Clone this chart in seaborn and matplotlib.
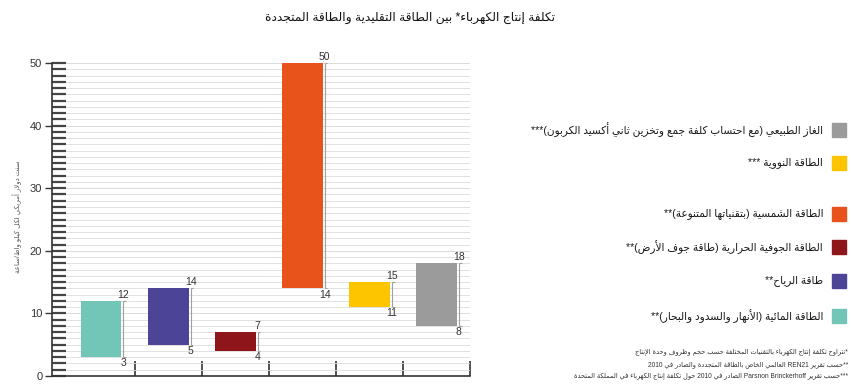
import re
import pandas as pd
import seaborn as sns
import matplotlib.pyplot as plt
from matplotlib.patches import Rectangle
from matplotlib.ticker import MultipleLocator

# matplotlib has no arabic shaping / bidi, so do a small version by hand
_order = "ءآأؤإئابةتثجحخدذرزسشصضطظعغفقكلمنهوىي"
_two = set("آأؤإادذرزوةى")
_forms = {}
code = 0xFE80
for ch in _order:
    n = 1 if ch == "ء" else (2 if ch in _two else 4)
    _forms[ch] = [chr(code + k) for k in range(n)]
    code += n
_lamalef = {"آ": 0xFEF5, "أ": 0xFEF7, "إ": 0xFEF9, "ا": 0xFEFB}


def _dual(ch):
    return ch in _forms and len(_forms[ch]) == 4


def shape(s):
    out = []
    i = 0
    while i < len(s):
        ch = s[i]
        if ch not in _forms:
            out.append(ch)
            i += 1
            continue
        prev = i > 0 and _dual(s[i - 1])
        if ch == "ل" and i + 1 < len(s) and s[i + 1] in _lamalef:
            out.append(chr(_lamalef[s[i + 1]] + (1 if prev else 0)))
            i += 2
            continue
        f = _forms[ch]
        nxt = i + 1 < len(s) and s[i + 1] in _forms and s[i + 1] != "ء"
        if len(f) == 4:
            k = {(False, False): 0, (True, False): 1, (False, True): 2, (True, True): 3}[(prev, nxt)]
        elif len(f) == 2:
            k = 1 if prev else 0
        else:
            k = 0
        out.append(f[k])
        i += 1
    return "".join(out)


def ar(s):
    s = shape(s)
    parts = re.split(r"([A-Za-z0-9][A-Za-z0-9 ]*[A-Za-z0-9]|[A-Za-z0-9])", s)
    mirror = str.maketrans("()", ")(")
    res = [p if j % 2 else p[::-1].translate(mirror) for j, p in enumerate(parts)]
    return "".join(reversed(res))


# data
sources = ["الطاقة المائية (الأنهار والسدود والبحار)**",
           "طاقة الرياح**",
           "الطاقة الجوفية الحرارية (طاقة جوف الأرض)**",
           "الطاقة الشمسية (بتقنياتها المتنوعة)**",
           "الطاقة النووية ***",
           "الغاز الطبيعي (مع احتساب كلفة جمع وتخزين ثاني أكسيد الكربون)***"]
cost_low = [3, 5, 4, 14, 11, 8]
cost_high = [12, 14, 7, 50, 15, 18]
colors = ["#72c6b7", "#4c4597", "#8e1519", "#e7531a", "#fcc500", "#9b9b9b"]

title = "تكلفة إنتاج الكهرباء* بين الطاقة التقليدية والطاقة المتجددة"
ylabel = "سنت دولار أمريكي لكل كيلو واط/ساعة"
notes = ["*تتراوح تكلفة إنتاج الكهرباء بالتقنيات المختلفة حسب حجم وظروف وحدة الإنتاج",
         "**حسب تقرير REN21 العالمي الخاص بالطاقة المتجددة والصادر في 2010",
         "***حسب تقرير Parsnon Brinckerhoff الصادر في 2010 حول تكلفة إنتاج الكهرباء في المملكة المتحدة"]

df = pd.DataFrame({"source": sources, "low": cost_low, "high": cost_high})
df["span"] = df["high"] - df["low"]

sns.set_theme(style="ticks")
plt.rcParams["font.family"] = ["Liberation Sans", "DejaVu Sans"]

W, H = 851, 388
fig = plt.figure(figsize=(W / 100, H / 100), dpi=100)
ax = fig.add_axes([52 / W, 12 / H, 418 / W, 313 / H])

bw = 0.61
sns.barplot(data=df, x="source", y="span", bottom=df["low"], width=bw, errorbar=None,
            color="#999999", ax=ax, zorder=3)
for patch, c in zip(ax.patches, colors):
    patch.set_facecolor(c)
    patch.set_edgecolor("none")

# range line + numbers on the right side of every bar
for i, row in df.iterrows():
    xl = i + bw / 2 + 0.03
    ax.vlines(xl, row["low"], row["high"], color="#a0a0a0", lw=0.8, zorder=4)
    ax.hlines([row["low"], row["high"]], xl, xl + 0.04, color="#a0a0a0", lw=0.8, zorder=4)
    ax.text(xl, row["high"] + 0.2, str(row["high"]), ha="center", va="bottom", fontsize=7.5, color="#333")
    ax.text(xl, row["low"] - 0.2, str(row["low"]), ha="center", va="top", fontsize=7.5, color="#333")

ax.set_xlim(-0.73, 5.45)
ax.set_ylim(0, 50)
ax.set_xlabel("")
ax.set_ylabel("")
ax.set_xticks([i + 0.5 for i in range(len(sources))])
ax.set_xticklabels([])
ax.tick_params(axis="x", direction="in", length=11, width=1.2, color="#333", bottom=True)

ax.set_yticks(range(0, 51, 10))
ax.yaxis.set_minor_locator(MultipleLocator(1))
ax.yaxis.remove_overlapping_locs = False
ax.tick_params(axis="y", which="major", direction="out", length=5, width=1, color="#333",
               labelsize=8, labelcolor="#333", pad=2, left=True)
ax.tick_params(axis="y", which="minor", direction="in", length=10, width=1.6, color="#444", left=True)
ax.grid(axis="y", which="both", color="#dcdcdc", lw=0.6)
ax.set_axisbelow(True)

sns.despine(ax=ax)
for side in ["left", "bottom"]:
    ax.spines[side].set_color("#333")
    ax.spines[side].set_linewidth(1.2)

fig.text(555 / W, 1 - 18 / H, ar(title), ha="right", va="center", fontsize=8.8, color="#111")
fig.text(17 / W, 1 - 217 / H, ar(ylabel), rotation=90, ha="center", va="center", fontsize=5, color="#555")

# legend, top entry is the last bar
legend_y = [316, 281, 247, 214, 163, 130]
for lab, c, y in zip(sources, colors, legend_y):
    fig.patches.append(Rectangle((832 / W, 1 - (y + 7) / H), 14 / W, 14 / H,
                                 transform=fig.transFigure, color=c))
    fig.text(823 / W, 1 - y / H, ar(lab), ha="right", va="center", fontsize=7.6, color="#1a1a1a")

for line, y in zip(notes, [353, 365, 377]):
    fig.text(848 / W, 1 - y / H, ar(line), ha="right", va="center", fontsize=4.8, color="#333")

fig.savefig("out.png", dpi=100)
